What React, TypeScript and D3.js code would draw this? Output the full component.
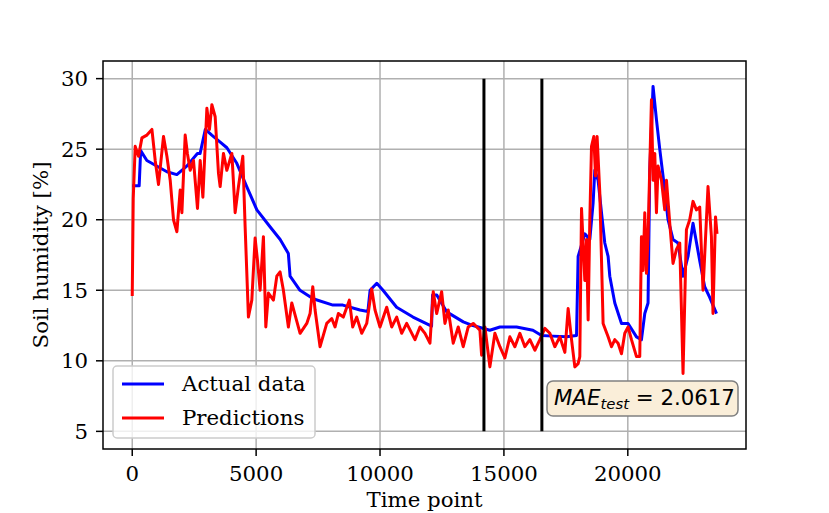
import * as d3 from 'd3';

const WIDTH = 829;
const HEIGHT = 513;
const MARGIN = { top: 61, right: 83, bottom: 64, left: 103 };

// actual soil humidity (time point, %)
const actualT = [0, 280, 340, 590, 1400, 1800, 2200, 2630, 2740, 2950, 3210, 3550, 3820, 4220, 4620, 5030, 5560, 5970, 6300, 6370, 6770, 7300, 8100, 8500, 9190, 9510, 9600, 9870, 10120, 10670, 11330, 12080, 12120, 12290, 12690, 13360, 13750, 14430, 14840, 15510, 16170, 16520, 16980, 17530, 17930, 17995, 18265, 18467, 18600, 18668, 18801, 18938, 19071, 19205, 19273, 19475, 19745, 20011, 20350, 20551, 20685, 20817, 20886, 21019, 21156, 21289, 21422, 21624, 21825, 22027, 22229, 22430, 22632, 22902, 23103, 23305, 23580];
const actualV = [22.4, 22.4, 24.9, 24.2, 23.4, 23.2, 23.8, 24.7, 24.7, 26.4, 26.0, 25.5, 25.1, 24.0, 22.35, 20.7, 19.5, 18.6, 17.6, 16.0, 15.0, 14.4, 13.95, 13.95, 13.6, 13.5, 15.0, 15.5, 15.0, 13.8, 13.1, 12.46, 14.66, 14.66, 13.47, 12.76, 12.5, 12.17, 12.4, 12.4, 12.17, 11.8, 11.75, 11.7, 11.8, 17.4, 19.0, 18.6, 21.2, 23.5, 22.8, 20.5, 18.35, 17.4, 16.0, 14.1, 12.65, 12.65, 11.7, 11.5, 13.35, 14.1, 23.5, 29.45, 27.1, 25.0, 23.1, 20.0, 18.6, 18.35, 16.0, 17.4, 19.75, 17.1, 15.25, 14.5, 13.35];

// model predictions (time point, %)
const predT = [0, 40, 120, 254, 391, 593, 794, 927, 1060, 1262, 1399, 1532, 1665, 1802, 1935, 2004, 2137, 2226, 2339, 2472, 2633, 2742, 2851, 3012, 3117, 3214, 3347, 3480, 3548, 3681, 3818, 4020, 4153, 4286, 4463, 4556, 4689, 4826, 4959, 5052, 5161, 5294, 5391, 5496, 5698, 5835, 5967, 6100, 6302, 6439, 6774, 7044, 7177, 7286, 7379, 7580, 7850, 8052, 8185, 8318, 8519, 8761, 8898, 9059, 9261, 9463, 9664, 9798, 9999, 10269, 10471, 10673, 10874, 11076, 11411, 11612, 11814, 12015, 12148, 12286, 12487, 12620, 12753, 12955, 13156, 13358, 13560, 13761, 14031, 14100, 14233, 14434, 14636, 14838, 15039, 15241, 15443, 15644, 15846, 16048, 16249, 16451, 16652, 16854, 17055, 17257, 17459, 17592, 17729, 17862, 17995, 18063, 18132, 18265, 18334, 18399, 18467, 18535, 18628, 18697, 18761, 18870, 19003, 19205, 19342, 19475, 19608, 19745, 19878, 20011, 20148, 20350, 20483, 20551, 20615, 20685, 20753, 20817, 20954, 21019, 21088, 21156, 21221, 21358, 21491, 21560, 21693, 21825, 21963, 22096, 22229, 22366, 22498, 22632, 22769, 22902, 23035, 23237, 23374, 23438, 23540, 23600];
const predV = [14.6, 21.5, 25.2, 24.5, 25.8, 26.0, 26.4, 24.2, 22.5, 25.9, 24.5, 22.8, 20.0, 19.15, 22.1, 20.5, 26.0, 24.7, 23.5, 24.2, 20.8, 24.2, 21.6, 27.9, 26.4, 28.15, 27.3, 23.3, 22.35, 24.7, 23.5, 24.7, 20.5, 22.35, 24.5, 19.5, 13.1, 14.3, 18.7, 17.15, 15.0, 18.8, 12.4, 14.8, 14.3, 16.0, 16.3, 15.0, 12.4, 14.1, 11.95, 12.65, 13.35, 15.25, 13.6, 11.0, 12.65, 13.0, 12.4, 13.35, 13.1, 14.3, 12.4, 13.1, 11.95, 12.65, 15.1, 13.6, 12.4, 13.8, 12.4, 13.1, 11.95, 12.65, 11.5, 12.4, 11.95, 11.25, 14.9, 13.35, 14.9, 12.65, 13.6, 11.25, 12.4, 11.0, 12.4, 12.65, 12.17, 10.4, 12.4, 9.57, 11.95, 11.0, 10.2, 11.7, 11.0, 11.95, 11.0, 11.5, 10.75, 11.5, 12.3, 11.95, 11.0, 11.7, 10.6, 13.7, 11.5, 9.57, 9.8, 10.3, 20.8, 15.7, 18.6, 12.9, 20.0, 25.2, 25.9, 23.1, 25.9, 21.9, 12.65, 11.7, 11.0, 11.5, 11.25, 10.5, 11.95, 12.4, 11.5, 10.3, 10.3, 18.8, 16.4, 20.5, 16.2, 18.8, 28.5, 22.8, 24.7, 20.5, 23.8, 22.8, 20.7, 22.8, 19.75, 16.9, 17.9, 18.35, 9.1, 19.3, 20.0, 21.3, 20.7, 20.9, 15.0, 22.35, 18.8, 13.35, 20.2, 19.0];

// split markers (train / validation / test)
const splitT = [14194, 16532];

const xTicks = [0, 5000, 10000, 15000, 20000];
const yTicks = [5, 10, 15, 20, 25, 30];

const seriesNames = ['Actual data', 'Predictions'];
const seriesColors = ['#0000ff', '#ff0000'];

const SERIF = 'DejaVu Serif, serif';
const SANS = 'DejaVu Sans, sans-serif';
const FS = 21.3;

export default function App() {
  const x = d3.scaleLinear()
    .domain([-1180, 24770])
    .range([MARGIN.left, WIDTH - MARGIN.right]);
  const y = d3.scaleLinear()
    .domain([3.75, 31.25])
    .range([HEIGHT - MARGIN.bottom, MARGIN.top]);

  const line = d3.line<[number, number]>()
    .x((d) => x(d[0]))
    .y((d) => y(d[1]));

  const actual = actualT.map((t, i) => [t, actualV[i]] as [number, number]);
  const pred = predT.map((t, i) => [t, predV[i]] as [number, number]);

  const left = MARGIN.left;
  const right = WIDTH - MARGIN.right;
  const top = MARGIN.top;
  const bottom = HEIGHT - MARGIN.bottom;

  return (
    <svg
      width={WIDTH}
      height={HEIGHT}
      style={{ position: 'absolute', left: 0, top: 0, background: '#fff' }}
    >
      <g className="grid" stroke="#b0b0b0" strokeWidth={1.5}>
        {xTicks.map((t) => (
          <line key={`gx${t}`} x1={x(t)} x2={x(t)} y1={top} y2={bottom} />
        ))}
        {yTicks.map((t) => (
          <line key={`gy${t}`} x1={left} x2={right} y1={y(t)} y2={y(t)} />
        ))}
      </g>

      <path d={line(actual) || ''} fill="none" stroke={seriesColors[0]} strokeWidth={3} strokeLinejoin="round" />
      <path d={line(pred) || ''} fill="none" stroke={seriesColors[1]} strokeWidth={3} strokeLinejoin="round" />

      {splitT.map((t) => (
        <line key={`s${t}`} x1={x(t)} x2={x(t)} y1={y(5)} y2={y(30)} stroke="#000" strokeWidth={3} />
      ))}

      <rect x={left} y={top} width={right - left} height={bottom - top} fill="none" stroke="#000" strokeWidth={1.5} />

      <g className="x-axis" fontFamily={SERIF} fontSize={FS} textAnchor="middle">
        {xTicks.map((t) => (
          <g key={`xt${t}`}>
            <line x1={x(t)} x2={x(t)} y1={bottom} y2={bottom + 7} stroke="#000" strokeWidth={1.5} />
            <text x={x(t)} y={481}>{t}</text>
          </g>
        ))}
        <text x={(left + right) / 2} y={507}>Time point</text>
      </g>

      <g className="y-axis" fontFamily={SERIF} fontSize={FS} textAnchor="end">
        {yTicks.map((t) => (
          <g key={`yt${t}`}>
            <line x1={left - 7} x2={left} y1={y(t)} y2={y(t)} stroke="#000" strokeWidth={1.5} />
            <text x={88} y={y(t)} dy="0.36em">{t}</text>
          </g>
        ))}
        <text
          transform={`translate(48,${(top + bottom) / 2}) rotate(-90)`}
          textAnchor="middle"
        >
          Soil humidity [%]
        </text>
      </g>

      <g className="legend" fontFamily={SERIF} fontSize={FS}>
        <rect x={113} y={366} width={202} height={72} rx={4} fill="#fff" fillOpacity={0.8} stroke="#cccccc" strokeWidth={1.5} />
        {seriesNames.map((name, i) => (
          <g key={name}>
            <line x1={122} x2={164} y1={384 + i * 34} y2={384 + i * 34} stroke={seriesColors[i]} strokeWidth={3} />
            <text x={182} y={391 + i * 34}>{name}</text>
          </g>
        ))}
      </g>

      <g className="mae">
        <rect x={547} y={381} width={191} height={35} rx={6} fill="#faeed9" stroke="#808080" strokeWidth={1.5} />
        <text x={554} y={405} fontFamily={SANS} fontSize={FS}>
          <tspan fontStyle="italic">MAE</tspan>
          <tspan fontStyle="italic" fontSize={14.9} dy={4}>test</tspan>
          <tspan dy={-4}> = 2.0617</tspan>
        </text>
      </g>
    </svg>
  );
}
